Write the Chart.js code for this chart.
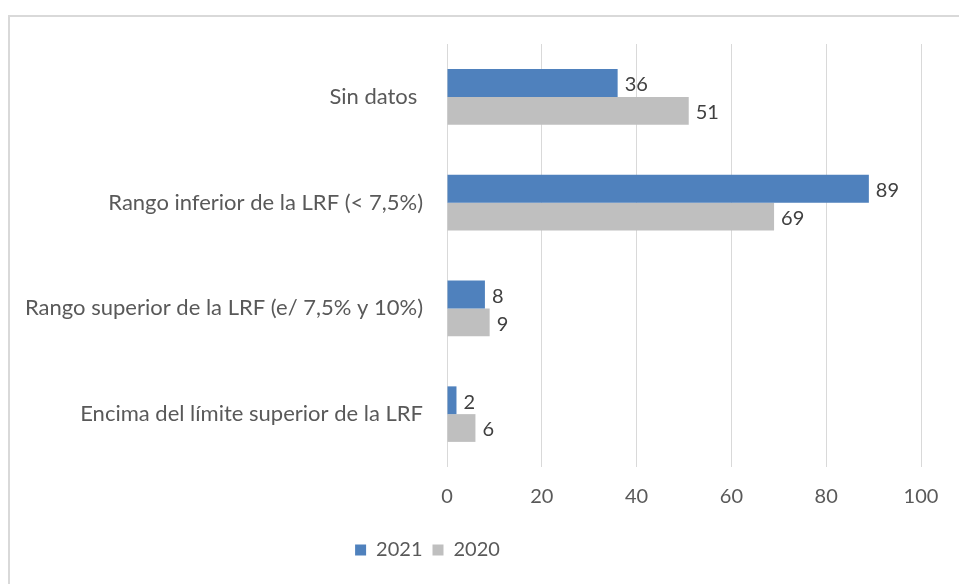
<!DOCTYPE html>
<html>
<head>
<meta charset="utf-8">
<script src="https://cdn.jsdelivr.net/npm/chart.js@4"></script>
<style>
  body { margin: 0; background: #fff; overflow: hidden; }
  #frame { position: absolute; left: 8px; top: 15px; width: 1000px; height: 700px;
           border-left: 2px solid #D9D9D9; border-top: 2px solid #D9D9D9; }
  #chart { position: absolute; left: 0; top: 0; }
</style>
</head>
<body>
<div id="frame"></div>
<canvas id="chart" width="959" height="584"></canvas>
<script>
const categorias = [
    'Sin datos ',
    'Rango inferior de la LRF (< 7,5%)',
    'Rango superior de la LRF (e/ 7,5% y 10%)',
    'Encima del límite superior de la LRF'
];
const valores2021 = [36, 89, 8, 2];
const valores2020 = [51, 69, 9, 6];
const ticksX = [0, 20, 40, 60, 80, 100];

const fonte = 'Lato, Calibri, "Open Sans", sans-serif';

// etiquetas de valor na ponta de cada barra
const rotulos = {
    id: 'rotulos',
    afterDatasetsDraw(chart) {
        const ctx = chart.ctx;
        ctx.save();
        ctx.font = '20px ' + fonte;
        ctx.fillStyle = '#404040';
        ctx.textAlign = 'left';
        ctx.textBaseline = 'middle';
        chart.data.datasets.forEach((ds, i) => {
            chart.getDatasetMeta(i).data.forEach((bar, j) => {
                ctx.fillText(ds.data[j], bar.x + 7, bar.y + 2);
            });
        });
        ctx.restore();
    }
};

// a legenda do original fica um pouco à esquerda do centro
const moveLegenda = {
    id: 'moveLegenda',
    afterLayout(chart) {
        const lg = chart.legend;
        lg.left -= 33;
        lg.right -= 33;
    }
};

const graficoBarras = new Chart(document.getElementById('chart'), {
    type: 'bar',
    data: {
        labels: categorias,
        datasets: [
            { label: '2021', data: valores2021, backgroundColor: '#4F81BD' },
            { label: '2020', data: valores2020, backgroundColor: '#BFBFBF' }
        ]
    },
    options: {
        indexAxis: 'y',
        responsive: false,
        animation: false,
        barPercentage: 1,
        categoryPercentage: 0.525,
        layout: { padding: { top: 44, right: 38, bottom: 14, left: 0 } },
        scales: {
            x: {
                min: 0, max: 100,
                afterBuildTicks(scale) { scale.ticks = ticksX.map(v => ({ value: v })); },
                grid: { color: '#D9D9D9', drawTicks: false },
                border: { display: false },
                ticks: { color: '#595959', font: { family: fonte, size: 20 }, padding: 18 },
                afterFit(scale) { scale.height = 63; }
            },
            y: {
                grid: { display: false, drawTicks: false },
                border: { display: false },
                ticks: { color: '#595959', font: { family: fonte, size: 22 }, padding: 24 },
                afterFit(scale) { scale.width = 447; }
            }
        },
        plugins: {
            legend: {
                position: 'bottom',
                labels: {
                    color: '#595959',
                    font: { family: fonte, size: 20 },
                    boxWidth: 11, boxHeight: 11,
                    padding: 10
                }
            },
            tooltip: { enabled: false }
        }
    },
    plugins: [rotulos, moveLegenda]
});
</script>
</body>
</html>
